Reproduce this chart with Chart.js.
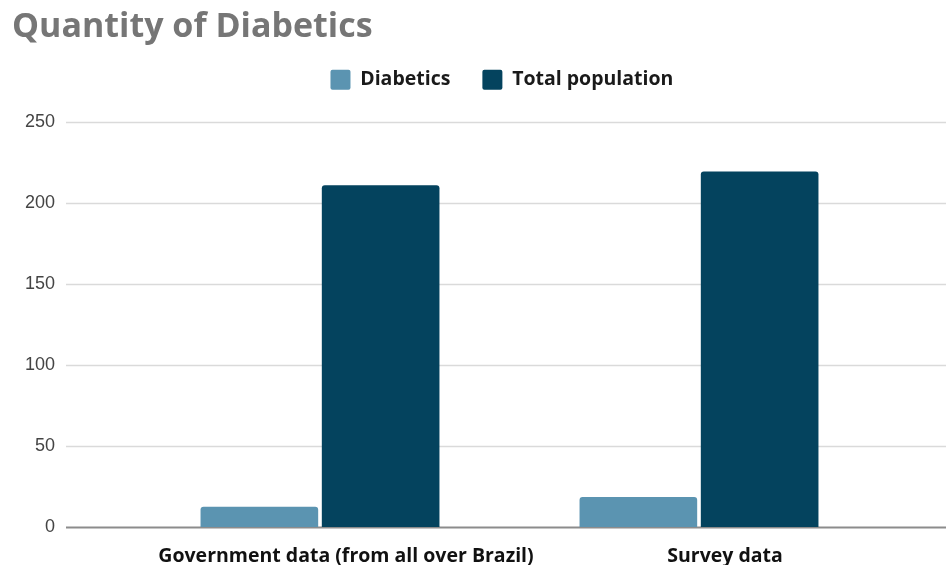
<!DOCTYPE html>
<html>
<head>
<meta charset="utf-8">
<script src="https://cdn.jsdelivr.net/npm/chart.js@4"></script>
<style>
  html, body { margin: 0; padding: 0; background: #ffffff; }
  #wrap { width: 946px; height: 565px; position: relative; }
</style>
</head>
<body>
<div id="wrap"><canvas id="c" width="946" height="565"></canvas></div>
<script>
const titleText = "Quantity of Diabetics";
const categories = ["Government data (from all over Brazil)", "Survey data"];
const seriesNames = ["Diabetics", "Total population"];
const diabetics = [12.5, 18.5];
const totalPopulation = [211, 219.5];
const yTicks = [0, 50, 100, 150, 200, 250];

const lightBlue = "#5b94b1";
const darkBlue = "#04435e";

// Horizontal grid lines drawn across the full width, using the y scale
const wideGrid = {
  id: "wideGrid",
  beforeDatasetsDraw(chart) {
    const ctx = chart.ctx;
    const y = chart.scales.y;
    ctx.save();
    yTicks.forEach(v => {
      const py = Math.round(y.getPixelForValue(v)) + 0.5;
      ctx.beginPath();
      if (v === 0) {
        ctx.strokeStyle = "#8c8c8c";
        ctx.lineWidth = 2;
      } else {
        ctx.strokeStyle = "#dadada";
        ctx.lineWidth = 1.5;
      }
      ctx.moveTo(66, py);
      ctx.lineTo(chart.width, py);
      ctx.stroke();
    });
    ctx.restore();
  }
};

new Chart(document.getElementById("c"), {
  type: "bar",
  data: {
    labels: categories,
    datasets: [
      {
        label: seriesNames[0],
        data: diabetics,
        xAxisID: "x",
        yAxisID: "y",
        backgroundColor: lightBlue,
        borderRadius: { topLeft: 3, topRight: 3 },
        borderSkipped: "bottom",
        categoryPercentage: 0.64,
        barPercentage: 0.97
      },
      {
        label: seriesNames[1],
        data: totalPopulation,
        xAxisID: "x",
        yAxisID: "y",
        backgroundColor: darkBlue,
        borderRadius: { topLeft: 3, topRight: 3 },
        borderSkipped: "bottom",
        categoryPercentage: 0.64,
        barPercentage: 0.97
      }
    ]
  },
  options: {
    responsive: false,
    animation: false,
    devicePixelRatio: 1,
    layout: { padding: { left: 12, right: 57.5, top: 0, bottom: 0 } },
    plugins: {
      title: {
        display: true,
        text: titleText,
        align: "start",
        color: "#767676",
        font: { family: "'Open Sans', sans-serif", size: 34, weight: "bold", lineHeight: 0.6 },
        padding: { top: 17.4, bottom: 0 }
      },
      legend: {
        display: true,
        position: "top",
        fullSize: false,
        stackWeight: 0.98,
        align: "center",
        labels: {
          boxWidth: 20,
          boxHeight: 20,
          padding: 32,
          color: "#1a1a1a",
          useBorderRadius: true,
          borderRadius: 2,
          font: { family: "'Open Sans', sans-serif", size: 19.5, weight: "bold" }
        }
      },
      tooltip: { enabled: false }
    },
    scales: {
      x: {
        grid: { display: false, drawTicks: false },
        border: { display: false },
        ticks: {
          color: "#111111",
          font: { family: "'Open Sans', sans-serif", size: 19.5, weight: "bold" },
          padding: 18,
          labelOffset: 26,
          maxRotation: 0,
          autoSkip: false
        },
        afterFit(scale) {
          scale.height = 38;
          scale.paddingLeft = 0;
          scale.paddingRight = 0;
        }
      },
      // empty spacer axis between the legend and the plot
      xTop: {
        type: "category",
        position: "top",
        display: true,
        grid: { display: false, drawTicks: false },
        border: { display: false },
        ticks: { display: false },
        afterFit(scale) {
          scale.height = 22.2;
          scale.paddingLeft = 0;
          scale.paddingRight = 0;
        }
      },
      y: {
        min: 0,
        max: 250,
        grid: { display: false, drawTicks: false },
        border: { display: false },
        ticks: {
          stepSize: 50,
          color: "#444444",
          font: { family: "'Liberation Sans', Arial, sans-serif", size: 18 },
          padding: 75.5
        },
        afterFit(scale) {
          scale.width = 118.5;
          scale.paddingTop = 0;
          scale.paddingBottom = 0;
        }
      }
    }
  },
  plugins: [wideGrid]
});
</script>
</body>
</html>
